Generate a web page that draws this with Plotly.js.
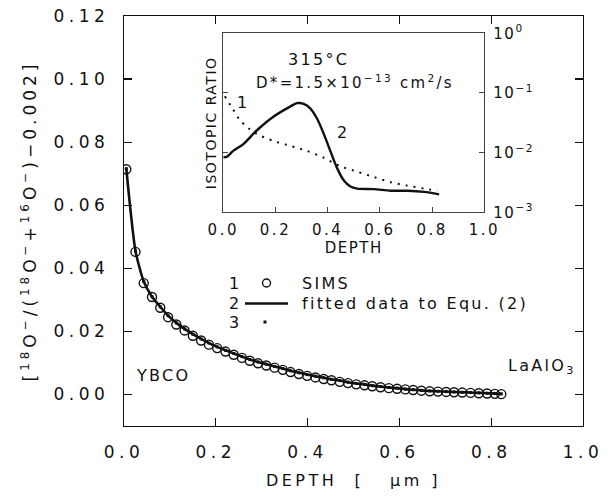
<!DOCTYPE html>
<html>
<head>
<meta charset="utf-8">
<script src="https://cdn.plot.ly/plotly-3.0.1.min.js"></script>
<style>
  body { margin: 0; padding: 0; background: #fff; }
  #chart { width: 610px; height: 504px; }
  .xtick text, .ytick text { letter-spacing: 4.5px; }
  .x2tick text { letter-spacing: 2.5px; }
  .y3tick text { letter-spacing: 1.5px; }
  .g-xtitle text { letter-spacing: 3.5px; }
  .g-ytitle text { letter-spacing: 4px; }
  .g-x2title text { letter-spacing: 1.5px; }
  .g-y2title text { letter-spacing: 1.5px; }
  .annotation-text { letter-spacing: 2.3px; }
</style>
</head>
<body>
<div id="chart"></div>
<script>
// ---- main panel: SIMS data (1), fit (2), series 3 ----
const depthSims = [0.005, 0.025, 0.043, 0.061, 0.079, 0.096, 0.114, 0.132, 0.150, 0.168,
  0.185, 0.203, 0.221, 0.239, 0.257, 0.274, 0.292, 0.310, 0.328, 0.346,
  0.363, 0.381, 0.399, 0.417, 0.435, 0.452, 0.470, 0.488, 0.506, 0.524,
  0.541, 0.559, 0.577, 0.595, 0.613, 0.630, 0.648, 0.666, 0.684, 0.702,
  0.719, 0.737, 0.755, 0.773, 0.791, 0.808, 0.822];
const ratioSims = [0.0714, 0.0452, 0.0353, 0.0309, 0.0275, 0.0245, 0.0222, 0.0203, 0.0186, 0.0171,
  0.0158, 0.0147, 0.0136, 0.0126, 0.0116, 0.0107, 0.0099, 0.0092, 0.0085, 0.0078,
  0.0071, 0.0065, 0.0059, 0.0054, 0.0049, 0.0045, 0.0040, 0.0036, 0.0032, 0.0029,
  0.0026, 0.0023, 0.0020, 0.0018, 0.0016, 0.0014, 0.0012, 0.0010, 0.0009, 0.0008,
  0.0007, 0.0006, 0.0005, 0.0004, 0.0003, 0.0002, 0.0001];
const ratioFit = [0.0716, 0.0455, 0.0358, 0.0310, 0.0278, 0.0250, 0.0227, 0.0208, 0.0191, 0.0176,
  0.0163, 0.0151, 0.0140, 0.0130, 0.0120, 0.0111, 0.0103, 0.0096, 0.0089, 0.0082,
  0.0075, 0.0069, 0.0063, 0.0058, 0.0053, 0.0048, 0.0044, 0.0039, 0.0035, 0.0032,
  0.0028, 0.0025, 0.0022, 0.0020, 0.0017, 0.0015, 0.0013, 0.0011, 0.0010, 0.0009,
  0.0008, 0.0007, 0.0006, 0.0005, 0.0004, 0.0003, 0.0002];
const ratioSeries3 = [0.0716, 0.0455, 0.0358, 0.0310, 0.0278, 0.0250, 0.0227, 0.0208, 0.0191, 0.0176,
  0.0163, 0.0151, 0.0140, 0.0130, 0.0120, 0.0111, 0.0103, 0.0096, 0.0089, 0.0082,
  0.0075, 0.0069, 0.0063, 0.0058, 0.0053, 0.0048, 0.0044, 0.0039, 0.0035, 0.0032,
  0.0028, 0.0025, 0.0022, 0.0020, 0.0017, 0.0015, 0.0013, 0.0011, 0.0010, 0.0009,
  0.0008, 0.0007, 0.0006, 0.0005, 0.0004, 0.0003, 0.0002];

// ---- inset: isotopic ratio profiles (log scale) ----
const insetDepth1 = [0.006, 0.030, 0.064, 0.095, 0.128, 0.190, 0.256, 0.320, 0.385, 0.449,
  0.513, 0.577, 0.641, 0.705, 0.769, 0.820];
const insetRatio1 = [0.088, 0.060, 0.035, 0.026, 0.0206, 0.0158, 0.0130, 0.0107, 0.0082, 0.0059,
  0.0048, 0.0039, 0.0032, 0.0028, 0.0025, 0.0023];
const insetDepth2 = [0.000, 0.013, 0.038, 0.077, 0.128, 0.192, 0.256, 0.282, 0.308, 0.333,
  0.359, 0.385, 0.410, 0.436, 0.462, 0.487, 0.513, 0.577, 0.641, 0.705, 0.769, 0.827];
const insetRatio2 = [0.0084, 0.0085, 0.0107, 0.0139, 0.0235, 0.040, 0.059, 0.0674, 0.0657, 0.0553,
  0.0373, 0.0206, 0.0107, 0.0055, 0.0034, 0.0027, 0.0025, 0.00245, 0.0023, 0.0023, 0.0022, 0.0020];

// ---- ticks ----
const xTickVals = [0, 0.2, 0.4, 0.6, 0.8, 1.0];
const xTickText = ["0.0", "0.2", "0.4", "0.6", "0.8", "1.0"];
const yTickVals = [0, 0.02, 0.04, 0.06, 0.08, 0.10, 0.12];
const yTickText = ["0.00", "0.02", "0.04", "0.06", "0.08", "0.10", "0.12"];
const insetYTickVals = [1, 0.1, 0.01, 0.001];
const insetYTickText = ["10<sup>0</sup>", "10<sup>\u22121</sup>", "10<sup>\u22122</sup>", "10<sup>\u22123</sup>"];

const FONT = "DejaVu Sans, Liberation Sans, Arial, sans-serif";
const INK = "#111";

const traces = [
  { x: depthSims, y: ratioSeries3, xaxis: "x", yaxis: "y", type: "scatter", mode: "markers",
    name: "3", marker: { symbol: "square", size: 3, color: INK } },
  { x: depthSims, y: ratioSims, xaxis: "x", yaxis: "y", type: "scatter", mode: "markers",
    name: "SIMS", marker: { symbol: "circle-open", size: 9, color: INK, line: { width: 1.4, color: INK } } },
  { x: depthSims, y: ratioFit, xaxis: "x", yaxis: "y", type: "scatter", mode: "lines",
    name: "fitted data to Equ. (2)", line: { color: INK, width: 2.6, shape: "spline", smoothing: 0.6 } },
  { x: insetDepth2, y: insetRatio2, xaxis: "x2", yaxis: "y2", type: "scatter", mode: "lines",
    name: "2", line: { color: INK, width: 2.4, shape: "spline", smoothing: 0.8 } },
  { x: insetDepth1, y: insetRatio1, xaxis: "x2", yaxis: "y3", type: "scatter", mode: "lines",
    name: "1", line: { color: INK, width: 2, dash: "2px,6px", shape: "spline", smoothing: 0.8 } }
];

const W = 459, H = 410; // plot area size in px
function px(x) { return (x - 124) / W; }
function py(y) { return (426 - y) / H; }

const annFont = { family: FONT, size: 16, color: INK };
const annotations = [
  { text: "315\u00b0C", x: px(318), y: py(60) },
  { text: "D*=1.5\u00d710<sup>\u221213</sup> cm<sup>2</sup>/s", x: px(355), y: py(82), font: { family: FONT, size: 15, color: INK } },
  { text: "1", x: px(243), y: py(103) },
  { text: "2", x: px(343), y: py(132) },
  { text: "YBCO", x: px(163), y: py(375) },
  { text: "LaAlO<sub>3</sub>", x: px(542), y: py(366) },
  { text: "1", x: px(235), y: py(283) },
  { text: "2", x: px(235), y: py(303) },
  { text: "3", x: px(235), y: py(322) },
  { text: "SIMS", x: px(300), y: py(283), xanchor: "left" },
  { text: "fitted data to Equ. (2)", x: px(300), y: py(303), xanchor: "left" }
].map(a => Object.assign({ xref: "paper", yref: "paper", showarrow: false, font: annFont,
  xanchor: "center", yanchor: "middle" }, a));

const shapes = [
  // legend keys
  { type: "circle", xref: "paper", yref: "paper", x0: px(262.5), x1: px(270.5), y0: py(287), y1: py(279),
    line: { color: INK, width: 1.4 } },
  { type: "line", xref: "paper", yref: "paper", x0: px(245), x1: px(288), y0: py(303.5), y1: py(303.5),
    line: { color: INK, width: 2.4 } },
  { type: "rect", xref: "paper", yref: "paper", x0: px(263.5), x1: px(266.5), y0: py(323.5), y1: py(320.5),
    fillcolor: INK, line: { color: INK, width: 0 } }
];

const axisCommon = { showgrid: false, zeroline: false, showline: true, linecolor: INK, ticks: "inside",
  tickcolor: INK };

const layout = {
  width: 610, height: 504,
  margin: { l: 124, r: 27, t: 16, b: 78, pad: 0 },
  paper_bgcolor: "#fff", plot_bgcolor: "#fff",
  showlegend: false,
  font: { family: FONT, color: INK },
  xaxis: Object.assign({}, axisCommon, {
    domain: [0, 1], range: [0, 1], anchor: "y", mirror: "ticks", linewidth: 1.3,
    tickvals: xTickVals, ticktext: xTickText, ticklen: 8, tickwidth: 1.2,
    tickfont: { family: FONT, size: 17, color: INK }, ticklabelstandoff: 10,
    title: { text: "DEPTH\u00a0\u00a0[\u00a0\u00a0\u00a0\u00b5m\u00a0]", font: { family: FONT, size: 16, color: INK }, standoff: 14 }
  }),
  yaxis: Object.assign({}, axisCommon, {
    domain: [0, 1], range: [-0.01, 0.12], anchor: "x", mirror: "ticks", linewidth: 1.3,
    tickvals: yTickVals, ticktext: yTickText, ticklen: 8, tickwidth: 1.2,
    tickfont: { family: FONT, size: 17, color: INK }, ticklabelstandoff: 10,
    title: { text: "[<sup>18</sup>O<sup>\u2212</sup>/(<sup>18</sup>O<sup>\u2212</sup>+<sup>16</sup>O<sup>\u2212</sup>)\u22120.002]",
      font: { family: FONT, size: 17, color: INK }, standoff: 12 }
  }),
  xaxis2: Object.assign({}, axisCommon, {
    domain: [0.2163, 0.785], range: [0, 1], anchor: "y2", mirror: true, linewidth: 1, linecolor: "#444",
    tickvals: xTickVals, ticktext: xTickText, ticklen: 5, tickwidth: 1, tickcolor: "#444",
    tickfont: { family: FONT, size: 15, color: INK }, ticklabelstandoff: 4,
    title: { text: "DEPTH", font: { family: FONT, size: 15, color: INK }, standoff: 2 }
  }),
  yaxis2: Object.assign({}, axisCommon, {
    domain: [0.5212, 0.9578], type: "log", range: [-3, 0], anchor: "x2", mirror: true, linewidth: 1, linecolor: "#444",
    tickvals: insetYTickVals, showticklabels: false, ticklen: 5, tickwidth: 1, tickcolor: "#444",
    title: { text: "ISOTOPIC RATIO", font: { family: FONT, size: 14, color: INK }, standoff: 2 }
  }),
  yaxis3: {
    overlaying: "y2", anchor: "x2", side: "right", type: "log", range: [-3, 0],
    showgrid: false, zeroline: false, showline: false, ticks: "inside", ticklen: 5, tickwidth: 1, tickcolor: "#444",
    tickvals: insetYTickVals, ticktext: insetYTickText, ticklabelstandoff: 8,
    tickfont: { family: FONT, size: 15, color: INK }
  },
  annotations: annotations,
  shapes: shapes
};

Plotly.newPlot("chart", traces, layout, { staticPlot: true, displayModeBar: false });
</script>
</body>
</html>
